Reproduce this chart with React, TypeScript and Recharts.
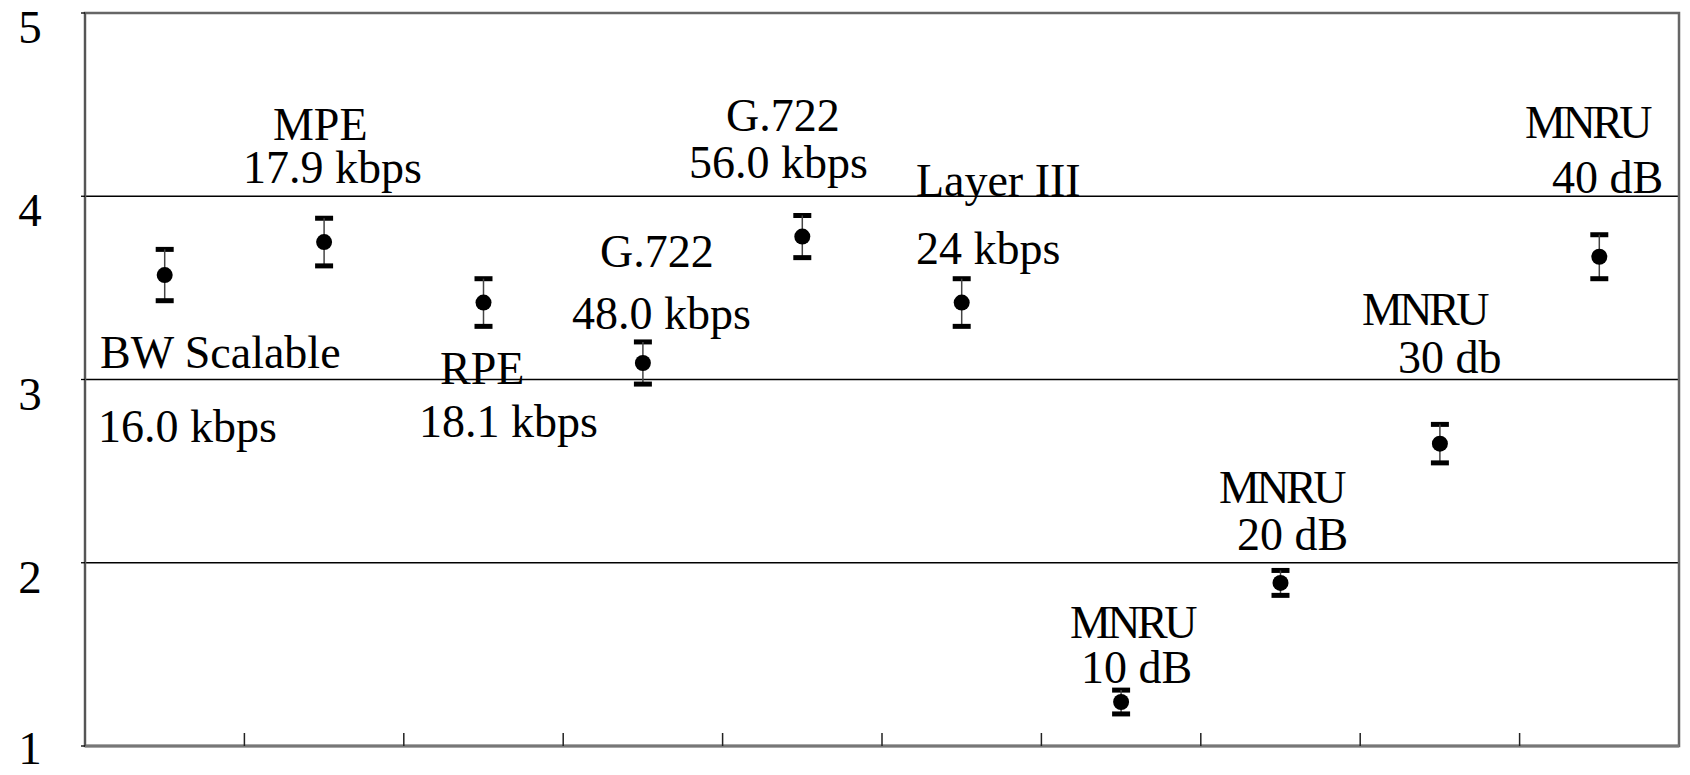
import React from 'react';
import { ScatterChart, Scatter, XAxis, YAxis, CartesianGrid, ErrorBar, ReferenceArea, ReferenceDot } from 'recharts';

const categories = ['BW Scalable 16.0 kbps', 'MPE 17.9 kbps', 'RPE 18.1 kbps', 'G.722 48.0 kbps', 'G.722 56.0 kbps', 'Layer III 24 kbps', 'MNRU 10 dB', 'MNRU 20 dB', 'MNRU 30 db', 'MNRU 40 dB'];
const scores = [3.57, 3.75, 3.42, 3.09, 3.78, 3.42, 1.24, 1.89, 2.65, 3.67];
const errors = [0.14, 0.13, 0.13, 0.115, 0.115, 0.13, 0.065, 0.068, 0.105, 0.12];
const yTicks = [1, 2, 3, 4, 5];
const xTicks = [1, 2, 3, 4, 5, 6, 7, 8, 9];

const labelTop = ['BW Scalable', 'MPE', 'RPE', 'G.722', 'G.722', 'Layer III', 'MNRU', 'MNRU', 'MNRU', 'MNRU'];
const labelBottom = ['16.0 kbps', '17.9 kbps', '18.1 kbps', '48.0 kbps', '56.0 kbps', '24 kbps', '10 dB', '20 dB', '30 db', '40 dB'];
const topX = [0.094, 1.179, 2.227, 3.231, 4.021, 5.213, 6.179, 7.114, 8.011, 9.034];
const topY = [3.063, 4.307, 2.975, 3.614, 4.356, 4.001, 1.589, 2.326, 3.297, 4.318];
const botX = [0.082, 0.991, 2.095, 3.055, 3.789, 5.213, 6.248, 7.227, 8.237, 9.203];
const botY = [2.659, 4.072, 2.686, 3.276, 4.1, 3.63, 1.344, 2.07, 3.035, 4.018];

const FONT = '"Liberation Serif", "Times New Roman", serif';

const data = categories.map((name, i) => ({ x: i + 0.5, y: scores[i], err: errors[i], name }));

const YTick = (props: any) => {
  const { x, y, payload } = props;
  return (
    <text x={x} y={Math.min(y + 30, 764)} textAnchor="middle" fontFamily={FONT} fontSize={47} fill="#000">
      {payload.value}
    </text>
  );
};

const NoTick = () => <g />;

const textShape = (text: string) => (p: any) => (
  <text
    x={p.cx}
    y={p.cy}
    textAnchor="start"
    fontFamily={FONT}
    fontSize={46}
    fill="#000"
    letterSpacing={text === 'MNRU' ? -3.5 : 0}
  >
    {text}
  </text>
);

const Dot = (p: any) => <circle cx={p.cx} cy={p.cy} r={8} fill="#000" />;

export default function App() {
  return (
    <div style={{ position: 'absolute', left: 0, top: 0, background: '#fff' }}>
      <style>{`
        .recharts-errorBar line { stroke: #444; stroke-width: 1.5px; }
        .recharts-errorBar line:nth-of-type(1), .recharts-errorBar line:nth-of-type(3) { stroke: #000; stroke-width: 5px; }
      `}</style>
      <ScatterChart width={1690} height={775} margin={{ top: 13, right: 11, bottom: 28, left: 0 }}>
        <CartesianGrid vertical={false} stroke="#000" strokeWidth={1.3} />
        <XAxis
          type="number"
          dataKey="x"
          domain={[0, 10]}
          ticks={xTicks}
          tick={<NoTick />}
          tickSize={-13}
          height={1}
          axisLine={{ stroke: '#777', strokeWidth: 3 }}
          tickLine={{ stroke: '#222', strokeWidth: 1.5 }}
        />
        <YAxis
          type="number"
          dataKey="y"
          domain={[1, 5]}
          ticks={yTicks}
          width={85}
          tickSize={4}
          tickMargin={51}
          tick={<YTick />}
          axisLine={{ stroke: '#555', strokeWidth: 2 }}
          tickLine={{ stroke: '#000', strokeWidth: 1.3 }}
        />
        <ReferenceArea x1={0} x2={10} y1={1} y2={5} fill="none" stroke="#666" strokeWidth={2.5} ifOverflow="visible" />
        <Scatter data={data} shape={Dot} isAnimationActive={false}>
          <ErrorBar dataKey="err" direction="y" width={9} stroke="#444" strokeWidth={1.5} isAnimationActive={false} />
        </Scatter>
        {labelTop.map((t, i) => (
          <ReferenceDot key={'t' + i} x={topX[i]} y={topY[i]} r={0} shape={textShape(t)} ifOverflow="visible" />
        ))}
        {labelBottom.map((t, i) => (
          <ReferenceDot key={'b' + i} x={botX[i]} y={botY[i]} r={0} shape={textShape(t)} ifOverflow="visible" />
        ))}
      </ScatterChart>
    </div>
  );
}
